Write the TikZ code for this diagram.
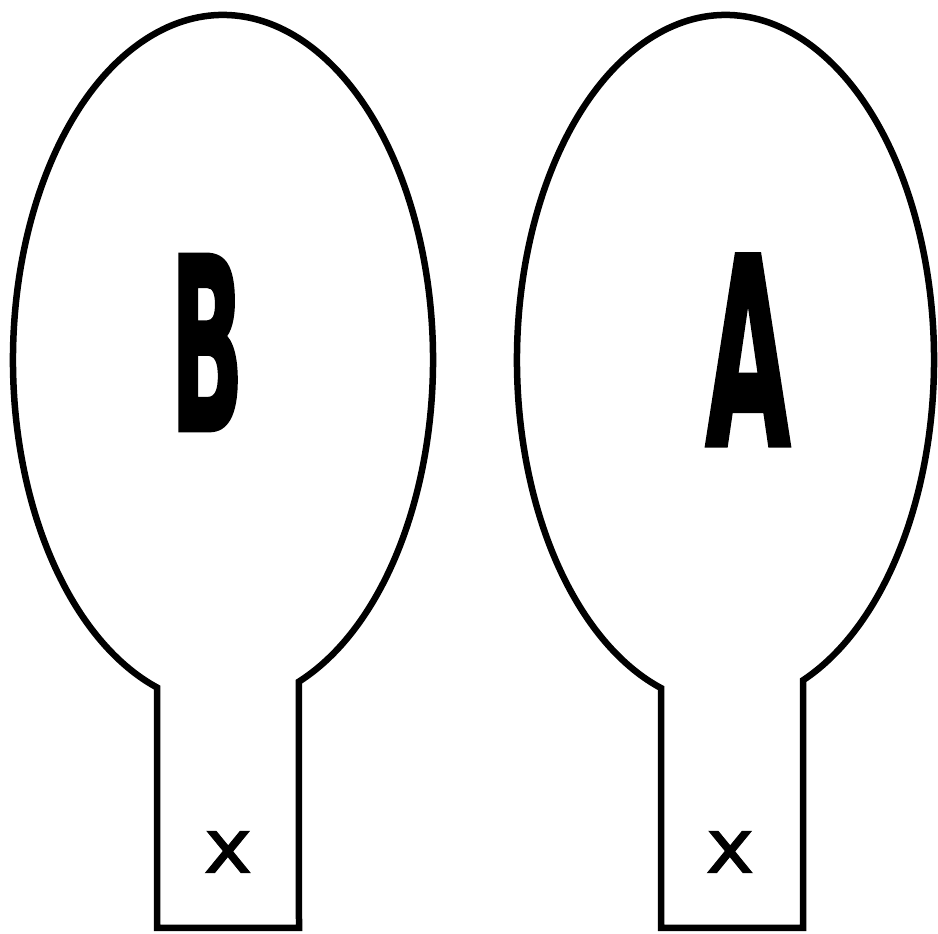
\documentclass[tikz,border=0pt]{standalone}
\usepackage{fontspec}
\setmainfont{DejaVu Sans}
\newfontfamily\paddlefont{DejaVu Sans}[BoldFeatures={FakeBold=2}]
\newfontfamily\markfont{DejaVu Sans}[FakeBold=1.2]
\usepackage{tikz}
\usetikzlibrary{positioning,calc}
\tikzset{
  paddle/.style={
    draw=black, line width=6.5pt, fill=white
  },
  paddleletter/.style={
    inner sep=0pt, anchor=center, xscale=#1,
    font=\paddlefont\bfseries
  },
  paddleletter/.default=0.42,
  paddlemark/.style={
    inner sep=0pt, anchor=center, xscale=1.1,
    font=\markfont\fontsize{76}{76}\selectfont
  },
}

\begin{document}
\begin{tikzpicture}[x=1pt, y=1pt]
  \useasboundingbox (0,0) rectangle (938,934);
  \coordinate (ovalB) at (223,574);
  \coordinate (ovalA) at (725.5,574);
  % left paddle
  \draw[paddle] (ovalB) ++(-68.8:210 and 345)
    arc[start angle=-68.8, end angle=251.7, x radius=210, y radius=345]
    -- (157,6) -- (299,6) -- cycle;
  % right paddle
  \draw[paddle] (ovalA) ++(-68.18:208.5 and 345)
    arc[start angle=-68.18, end angle=251.98, x radius=208.5, y radius=345]
    -- (661,6) -- (803,6) -- cycle;
  \node[paddleletter=0.40] (letB) at (207,591.5) {\fontsize{240}{240}\selectfont B};
  \node[paddleletter=0.42] (letA) at (748,584) {\fontsize{261}{261}\selectfont A};
  \node[paddlemark] (markB) at (228,82) {x};
  \node[paddlemark] (markA) at (730,82) {x};
\end{tikzpicture}
\end{document}
